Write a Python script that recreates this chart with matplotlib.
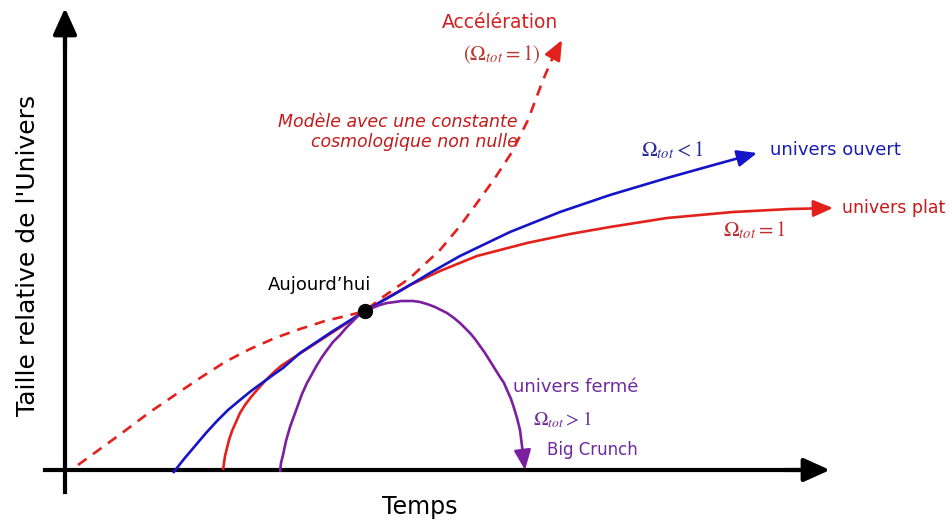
import matplotlib.pyplot as plt
import numpy as np

plt.rcParams['mathtext.fontset'] = 'stix'
plt.rcParams['font.family'] = ['DejaVu Sans']

# schematic units: time from the axis origin, relative size of the universe
accel_t = [13, 35, 57, 85, 107, 135, 160, 185, 210, 235, 260, 285, 300, 315, 345, 375,
           395, 412, 430, 447, 463, 478, 488, 497]
accel_a = [5, 21, 37, 58, 73, 92, 108, 121, 132, 141, 149, 155, 159, 171, 192, 220,
           244, 267, 292, 318, 350, 390, 413, 430]

flat_t = [158, 159, 160, 162, 164, 167, 171, 175, 180, 186, 192, 200, 208, 216, 225, 245,
          265, 285, 300, 320, 345, 375, 412, 462, 505, 545, 602, 668, 725, 768]
flat_a = [0, 7, 14, 22, 30, 39, 48, 57, 65, 73, 80, 89, 97, 104, 110, 123,
          136, 149, 159, 171, 185, 199, 214, 227, 236, 243, 252, 258, 261, 262]

open_t = [108, 119, 130, 141, 152, 163, 175, 186, 197, 208, 218, 235, 268, 300, 335, 365,
          395, 445, 495, 545, 602, 645, 692]
open_a = [-3, 11, 24, 37, 49, 60, 70, 79, 87, 95, 102, 117, 139, 159, 179, 197,
          214, 238, 258, 275, 292, 304, 317]

closed_t = [215, 216, 218, 221, 225, 229, 233, 237, 242, 247, 252, 257, 262, 268, 275,
            281, 287, 293, 300, 307, 315, 322, 330, 336, 342, 348, 355, 362, 370, 376,
            382, 389, 395, 400, 405, 410, 415, 420, 425, 430, 435, 439, 442, 446, 449,
            452, 455, 460]
closed_a = [-2, 7, 15, 29, 43, 54, 65, 76, 87, 96, 105, 113, 120, 128, 135,
            142, 148, 154, 159, 162, 165, 167, 168, 169, 169, 169, 168, 166, 163, 160,
            157, 152, 147, 142, 137, 131, 124, 117, 109, 101, 93, 87, 80, 71, 62,
            52, 40, 0]

today = (300, 159)

RED = '#e3211c'
BLUE = '#1414c8'
PURPLE = '#7a1f9e'


def curve(ax, t, a, color, ls='-', head=(0.75, 0.32), ms=16):
    ax.plot(t[:-1], a[:-1], color=color, lw=1.9, ls=ls, solid_capstyle='butt',
            solid_joinstyle='round')
    ax.annotate('', xy=(t[-1], a[-1]), xytext=(t[-2], a[-2]),
                arrowprops=dict(arrowstyle='-|>,head_length=%s,head_width=%s' % head,
                                color=color, lw=1.9, shrinkA=0, shrinkB=0,
                                mutation_scale=ms))


fig = plt.figure(figsize=(9.53, 5.22), dpi=100)
ax = fig.add_axes([0, 0, 1, 1])
ax.set_xlim(-65, 888)
ax.set_ylim(-52, 470)
ax.axis('off')

# axes with arrows
ax.plot([0, 0], [-22, 430], color='black', lw=3)
ax.annotate('', xy=(0, 462), xytext=(0, 420),
            arrowprops=dict(arrowstyle='-|>,head_length=1.0,head_width=0.45',
                            color='black', lw=3, shrinkA=0, shrinkB=0, mutation_scale=16))
ax.plot([-20, 740], [0, 0], color='black', lw=3)
ax.annotate('', xy=(765, 0), xytext=(720, 0),
            arrowprops=dict(arrowstyle='-|>,head_length=1.0,head_width=0.45',
                            color='black', lw=3, shrinkA=0, shrinkB=0, mutation_scale=16))

curve(ax, accel_t, accel_a, RED, ls=(0, (4, 3)))
curve(ax, flat_t, flat_a, RED)
curve(ax, open_t, open_a, BLUE)
curve(ax, closed_t, closed_a, PURPLE)

ax.plot(*today, 'o', color='black', ms=10, zorder=5)

ax.text(435, 448, 'Accélération', color='#d42020', fontsize=13.5, ha='center', va='center')
ax.text(437, 415, r'$\left(\Omega_{tot}=1\right)$', color='#b83a30', fontsize=15,
        ha='center', va='center')
ax.text(453, 338, 'Modèle avec une constante\ncosmologique non nulle', color='#c41a1a',
        fontsize=12.5, style='italic', ha='right', va='center', multialignment='right',
        linespacing=1.15)
ax.text(607, 320, r'$\Omega_{tot}<1$', color='#2a2a9a', fontsize=15, ha='center', va='center')
ax.text(705, 320, 'univers ouvert', color='#1a1ab4', fontsize=13, ha='left', va='center')
ax.text(777, 262, 'univers plat', color='#c81818', fontsize=12.5, ha='left', va='center')
ax.text(689, 240, r'$\Omega_{tot}=1$', color='#c03030', fontsize=15, ha='center', va='center')
ax.text(255, 185, 'Aujourd\u2019hui', color='black', fontsize=13, ha='center', va='center')
ax.text(448, 83, 'univers fermé', color='#6e2a9e', fontsize=13, ha='left', va='center')
ax.text(468, 50, r'$\Omega_{tot}>1$', color='#6e2a9e', fontsize=14, ha='left', va='center')
ax.text(482, 20, 'Big Crunch', color='#6e2a9e', fontsize=12, ha='left', va='center')

ax.text(-37, 215, "Taille relative de l'Univers", fontsize=18, rotation=90,
        ha='center', va='center')
ax.text(355, -37, 'Temps', fontsize=17, ha='center', va='center')

fig.savefig('out.png', dpi=100)
